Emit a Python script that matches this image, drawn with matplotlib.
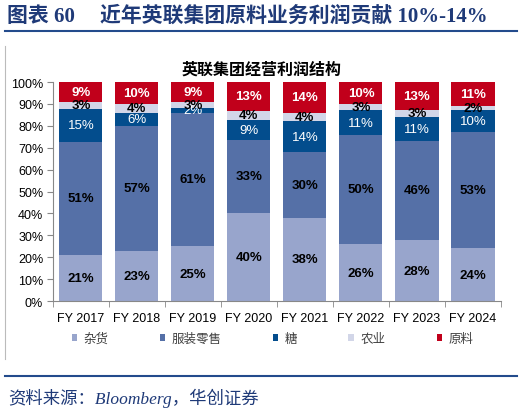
import numpy as np
import matplotlib
matplotlib.use('Agg')
import matplotlib.pyplot as plt
from matplotlib.lines import Line2D

plt.rcParams['font.family'] = ['Liberation Sans', 'Noto Sans CJK SC']

years = ['FY 2017', 'FY 2018', 'FY 2019', 'FY 2020', 'FY 2021', 'FY 2022', 'FY 2023', 'FY 2024']
series = ['杂货', '服装零售', '糖', '农业', '原料']
grocery = [21, 23, 25, 40, 38, 26, 28, 24]
retail = [51, 57, 61, 33, 30, 50, 46, 53]
sugar = [15, 6, 2, 9, 14, 11, 11, 10]
agri = [3, 4, 3, 4, 4, 3, 3, 2]
ingredients = [9, 10, 9, 13, 14, 10, 13, 11]

colors = ['#98A5CC', '#5570A7', '#034D8D', '#D2D6E8', '#C1001B']
label_colors = ['black', 'black', 'white', 'black', 'white']
label_weights = ['bold', 'bold', 'normal', 'bold', 'bold']
title_blue = '#1F3A78'
line_blue = '#234B8C'

data = np.array([grocery, retail, sugar, agri, ingredients], dtype=float)
share = data / data.sum(axis=0) * 100  # bars are stacked to 100%

fig = plt.figure(figsize=(5.24, 4.14), dpi=100)
ax = fig.add_axes([0.101, 0.2705, 0.855, 0.529])

x = np.arange(len(years))
bottom = np.zeros(len(years))
for i, name in enumerate(series):
  ax.bar(x, share[i], 0.77, bottom=bottom, color=colors[i], label=name, zorder=2)
  for j in range(len(years)):
    yc = bottom[j] + share[i][j] / 2
    ax.text(x[j], yc, '%d%%' % data[i][j], ha='center', va='center',
      color=label_colors[i], fontsize=9.5, fontweight=label_weights[i], zorder=3)
  bottom += share[i]

ax.set_xlim(-0.5, len(years) - 0.5)
ax.set_ylim(0, 100)
ax.set_yticks(np.arange(0, 101, 10))
ax.set_yticklabels(['%d%%' % v for v in range(0, 101, 10)], fontsize=9)
ax.set_xticks(x)
ax.set_xticklabels(years, fontsize=9)
ax.set_xticks(np.arange(-0.5, len(years)), minor=True)
ax.tick_params(axis='x', which='major', length=0, pad=8)
ax.tick_params(axis='x', which='minor', length=4, color='#888888', direction='out')
ax.tick_params(axis='y', length=4, color='#888888', direction='out', pad=3)
for s in ['top', 'right']:
  ax.spines[s].set_visible(False)
for s in ['left', 'bottom']:
  ax.spines[s].set_color('#888888')
  ax.spines[s].set_linewidth(0.8)

ax.legend(loc='center', bbox_to_anchor=(0.49, -0.172), ncol=5, frameon=False,
  handlelength=0.45, handleheight=0.45, handletextpad=0.5, columnspacing=4.1,
  prop={'family': 'Noto Sans CJK SC', 'size': 9}, labelcolor='#404040')

fig.text(0.5, 1 - 70 / 414, '英联集团经营利润结构', ha='center', va='center',
  fontsize=11.5, fontweight='bold', family=['Noto Sans CJK SC'], color='black')

title_font = ['Liberation Serif', 'Noto Sans CJK SC']
fig.text(7 / 524, 1 - 17 / 414, '图表 60', ha='left', va='center', fontsize=15,
  fontweight='bold', family=title_font, color=title_blue)
fig.text(100 / 524, 1 - 17 / 414, '近年英联集团原料业务利润贡献 10%-14%',
  ha='left', va='center', fontsize=15, fontweight='bold',
  family=title_font, color=title_blue)
fig.add_artist(Line2D([5 / 524, 517 / 524], [1 - 32 / 414] * 2, color=line_blue, lw=1.5))
fig.add_artist(Line2D([5 / 524, 5 / 524], [1 - 47 / 414, 1 - 360 / 414], color='#BBBBBB', lw=0.8))
fig.add_artist(Line2D([5 / 524, 517 / 524], [1 - 377 / 414] * 2, color=line_blue, lw=1.5))
fig.text(8 / 524, 1 - 398 / 414, '资料来源：Bloomberg，华创证券', ha='left', va='center',
  fontsize=12.5, style='italic', family=title_font, color=title_blue)

fig.savefig('out.png', dpi=100)
